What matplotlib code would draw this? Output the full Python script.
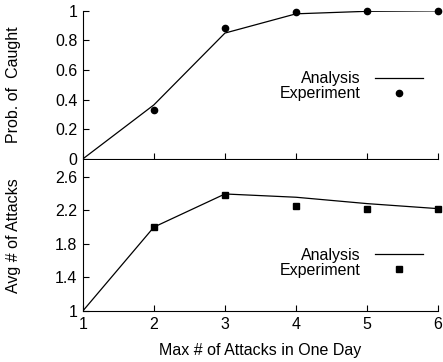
import matplotlib.pyplot as plt

plt.rcParams['font.family'] = ['Liberation Sans', 'DejaVu Sans']

# data
days = [1, 2, 3, 4, 5, 6]
caught_analysis = [0.0, 0.365, 0.85, 0.98, 0.997, 1.0]
caught_exp_x = [2, 3, 4, 5, 6]
caught_exp = [0.33, 0.883, 0.99, 1.0, 1.0]

attacks_analysis = [1.0, 2.0, 2.395, 2.356, 2.28, 2.22]
attacks_exp_x = [2, 3, 4, 5, 6]
attacks_exp = [2.0, 2.38, 2.255, 2.21, 2.22]

fs = 11.5

fig = plt.figure(figsize=(4.43, 3.62), dpi=100)
ax1 = fig.add_axes([0.187, 0.561, 0.802, 0.409])
ax2 = fig.add_axes([0.187, 0.141, 0.802, 0.417])

def style(ax):
    for s in ['top', 'right']:
        ax.spines[s].set_visible(False)
    ax.spines['left'].set_linewidth(0.8)
    ax.spines['bottom'].set_linewidth(0.8)
    ax.tick_params(direction='in', length=4, width=0.8, labelsize=fs, pad=4)
    ax.set_xlim(1, 6)
    ax.set_xticks(days)

style(ax1)
ax1.plot(days, caught_analysis, color='black', lw=0.9, label='Analysis')
ax1.plot(caught_exp_x, caught_exp, 'o', color='black', ms=4.5, label='Experiment', clip_on=False)
ax1.set_ylim(0, 1)
ax1.set_yticks([0, 0.2, 0.4, 0.6, 0.8, 1])
ax1.set_yticklabels(['0', '0.2', '0.4', '0.6', '0.8', '1'])
ax1.tick_params(axis='x', labelbottom=False)
ax1.set_ylabel('Prob. of  Caught', fontsize=fs)
ax1.yaxis.set_label_coords(-0.175, 0.5)
ax1.legend(loc='upper right', bbox_to_anchor=(0.975, 0.635), frameon=False, markerfirst=False,
           handlelength=3.0, handletextpad=0.9, labelspacing=0.0, fontsize=fs, borderaxespad=0)

style(ax2)
ax2.plot(days, attacks_analysis, color='black', lw=0.9, label='Analysis')
ax2.plot(attacks_exp_x, attacks_exp, 's', color='black', ms=4.5, label='Experiment', clip_on=False)
ax2.set_ylim(1, 2.8)
ax2.set_yticks([1, 1.4, 1.8, 2.2, 2.6])
ax2.set_yticklabels(['1', '1.4', '1.8', '2.2', '2.6'])
ax2.set_xticklabels([str(d) for d in days])
ax2.set_ylabel('Avg # of Attacks', fontsize=fs)
ax2.yaxis.set_label_coords(-0.175, 0.5)
ax2.set_xlabel('Max # of Attacks in One Day', fontsize=fs, labelpad=8)
ax2.legend(loc='upper right', bbox_to_anchor=(0.975, 0.46), frameon=False, markerfirst=False,
           handlelength=3.0, handletextpad=0.9, labelspacing=0.0, fontsize=fs, borderaxespad=0)

fig.savefig('out.png', dpi=100)
